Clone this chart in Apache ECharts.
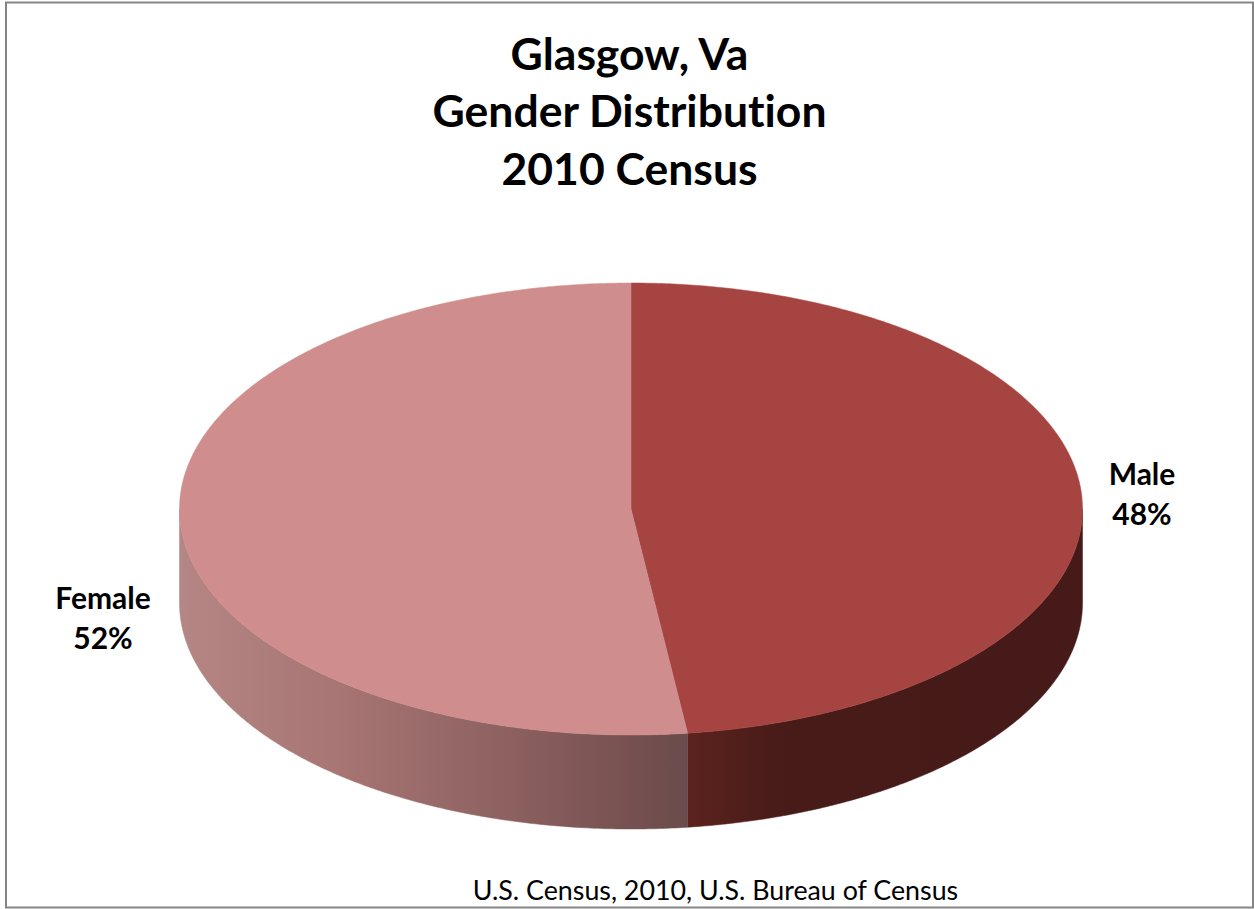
<!DOCTYPE html>
<html>
<head>
<meta charset="utf-8">
<title>Glasgow, Va Gender Distribution</title>
<style>
  html, body { margin: 0; padding: 0; background: #fff; }
  #chart { width: 1254px; height: 909px; }
  #chart text { font-variant-ligatures: none !important; }
</style>
<script src="https://cdn.jsdelivr.net/npm/echarts@6/dist/echarts.min.js"></script>
</head>
<body>
<div id="chart"></div>
<script>
// Census shares, clockwise from twelve o'clock
const categories = ['Male', 'Female'];
const percentages = [48, 52];
const titleLines = ['Glasgow, Va', 'Gender Distribution', '2010 Census'];
const sourceNote = 'U.S. Census, 2010, U.S. Bureau of Census';

// Tilted-disc geometry
const CX = 631, CY = 509, RX = 451.5, RY = 226, DEPTH = 94;
const FONT = 'Lato, Carlito, "Open Sans", sans-serif';

const topColors = ['#a64441', '#cf8e8d'];
const rimStops = [
  [{ offset: 0, color: '#5c221e' }, { offset: 0.25, color: '#471b18' }, { offset: 1, color: '#451a18' }],
  [{ offset: 0, color: '#b48684' }, { offset: 0.3, color: '#a87674' }, { offset: 0.6, color: '#906463' }, { offset: 0.85, color: '#7b5353' }, { offset: 1, color: '#6a4b4b' }]
];
// Label anchors, as offsets from the disc centre
const labelOffsets = [[511, -16.5], [-528, 108]];

const ellipsePoint = (turn, dy) => [
  CX + RX * Math.sin(turn * 2 * Math.PI),
  CY + dy - RY * Math.cos(turn * 2 * Math.PI)
];

const arcPoints = (from, to, dy) => {
  const steps = Math.max(2, Math.ceil(Math.abs(to - from) * 720));
  const pts = [];
  for (let i = 0; i <= steps; i++) pts.push(ellipsePoint(from + (to - from) * i / steps, dy));
  return pts;
};

const total = percentages.reduce((a, b) => a + b, 0);

function renderSlice(params, api) {
  const i = params.dataIndex;
  const start = percentages.slice(0, i).reduce((a, b) => a + b, 0) / total;
  const end = start + api.value(0) / total;
  const children = [];

  // Rim: only the part of the slice facing the viewer (turns 0.25 to 0.75)
  const rimFrom = Math.max(start, 0.25), rimTo = Math.min(end, 0.75);
  if (rimTo > rimFrom) {
    const rim = arcPoints(rimFrom, rimTo, 0).concat(arcPoints(rimTo, rimFrom, DEPTH));
    const rimFill = { type: 'linear', x: 0, y: 0, x2: 1, y2: 0, colorStops: rimStops[i] };
    children.push({
      type: 'polygon',
      shape: { points: rim },
      style: { fill: rimFill, stroke: rimFill, lineWidth: 0.5 }
    });
  }

  // Top face
  children.push({
    type: 'polygon',
    shape: { points: [[CX, CY]].concat(arcPoints(start, end, 0)) },
    style: { fill: topColors[i], stroke: topColors[i], lineWidth: 0.5 }
  });

  // Category and share
  children.push({
    type: 'text',
    x: CX + labelOffsets[i][0],
    y: CY + labelOffsets[i][1],
    style: {
      text: categories[i] + '\n' + api.value(0) + '%',
      font: 'bold 30px ' + FONT,
      fill: '#000',
      align: 'center',
      verticalAlign: 'middle',
      lineHeight: 40
    }
  });
  return { type: 'group', children };
}

const chart = echarts.init(document.getElementById('chart'), null, { renderer: 'svg' });
chart.setOption({
  animation: false,
  backgroundColor: '#ffffff',
  title: [{
    text: titleLines.join('\n'),
    left: 624.5, top: 18.5, textAlign: 'center',
    textStyle: { fontFamily: FONT, fontSize: 44.5, fontWeight: 'bold', color: '#000', lineHeight: 57.5 }
  }, {
    text: sourceNote,
    left: 710.5, top: 871, textAlign: 'center',
    textStyle: { fontFamily: FONT, fontSize: 26.8, fontWeight: 'normal', color: '#000' }
  }],
  graphic: [{
    type: 'rect',
    shape: { x: 6, y: 2.5, width: 1247, height: 905 },
    style: { fill: 'none', stroke: '#858585', lineWidth: 2 },
    silent: true
  }],
  series: [{
    type: 'custom',
    coordinateSystem: 'none',
    silent: true,
    renderItem: renderSlice,
    data: percentages.map((v) => [v])
  }]
});
</script>
</body>
</html>
